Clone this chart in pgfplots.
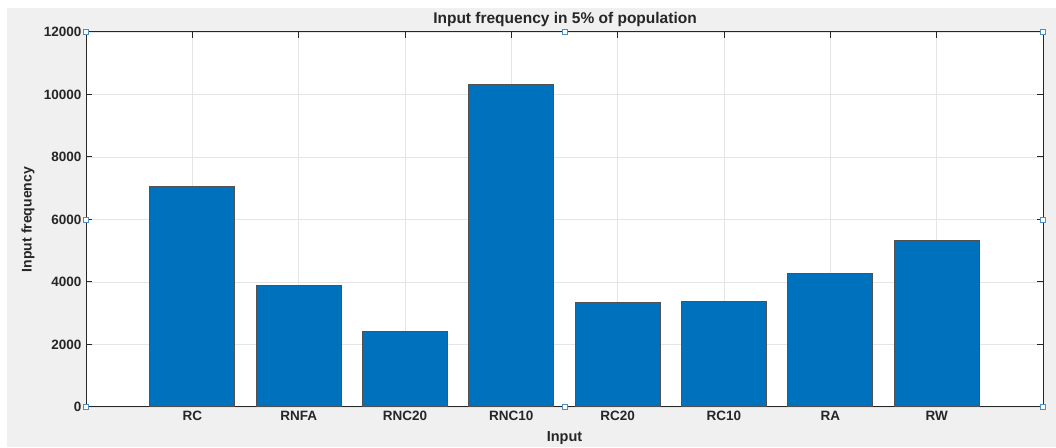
\documentclass[border=0pt]{standalone}
\usepackage{pgfplots}
\pgfplotsset{compat=1.18}
\usepackage{fontspec}
\setmainfont{Liberation Sans}
\definecolor{mbar}{HTML}{0072BD}
\definecolor{bgg}{HTML}{F0F0F0}
\definecolor{axc}{HTML}{262626}
\definecolor{hnd}{HTML}{4A90C8}
\tikzset{hndl/.style={hnd, line width=0.8pt, fill=white, minimum size=5pt, inner sep=0pt, draw, rectangle}}
\begin{document}
\begin{tikzpicture}[x=1pt,y=1pt]
\fill[white] (0,0) rectangle (1056,447);
\fill[bgg] (7,0) rectangle (1056,439);
\begin{axis}[
  at={(86pt,40pt)}, anchor=south west,
  scale only axis, width=957pt, height=375pt,
  xmin=0, xmax=9, ymin=0, ymax=12000,
  xtick={1,...,8},
  xticklabels={RC,RNFA,RNC20,RNC10,RC20,RC10,RA,RW},
  ytick={0,2000,4000,6000,8000,10000,12000},
  scaled y ticks=false,
  /pgf/number format/assume math mode=true,
  /pgf/number format/set thousands separator={},
  xmajorgrids, ymajorgrids,
  major grid style={color=black!10, line width=0.8pt},
  tick align=inside, major tick length=6pt,
  axis line style={axc, line width=1pt},
  tick style={axc, line width=1pt},
  axis background/.style={fill=white},
  ticklabel style={font=\bfseries\fontsize{13.5}{15}\selectfont, text=axc},
  yticklabel style={xshift=-1pt},
  xticklabel style={yshift=-1pt},
  xlabel={Input},
  xlabel style={font=\bfseries\fontsize{14.5}{16}\selectfont, text=axc, at={(rel axis cs:0.5,0)}, anchor=center, yshift=-31pt},
  ylabel={Input frequency},
  ylabel style={font=\bfseries\fontsize{14}{16}\selectfont, text=axc, at={(rel axis cs:0,0.5)}, anchor=center, yshift=58pt},
  clip=false,
]
\addplot[ybar, bar width=0.8, fill=mbar, draw=axc!80, line width=1pt]
  coordinates {(1,7050) (2,3880) (3,2400) (4,10320) (5,3350) (6,3380) (7,4280) (8,5340)};
\node[hndl] at (rel axis cs:0,0) {};
\node[hndl] at (rel axis cs:0.5,0) {};
\node[hndl] at (rel axis cs:1,0) {};
\node[hndl] at (rel axis cs:0,0.5) {};
\node[hndl] at (rel axis cs:1,0.5) {};
\node[hndl] at (rel axis cs:0,1) {};
\node[hndl] at (rel axis cs:0.5,1) {};
\node[hndl] at (rel axis cs:1,1) {};
\end{axis}
\node[font=\bfseries\fontsize{15.5}{17}\selectfont, text=axc, inner sep=0pt] at (565,428) {Input frequency in 5\% of population};
\end{tikzpicture}
\end{document}
